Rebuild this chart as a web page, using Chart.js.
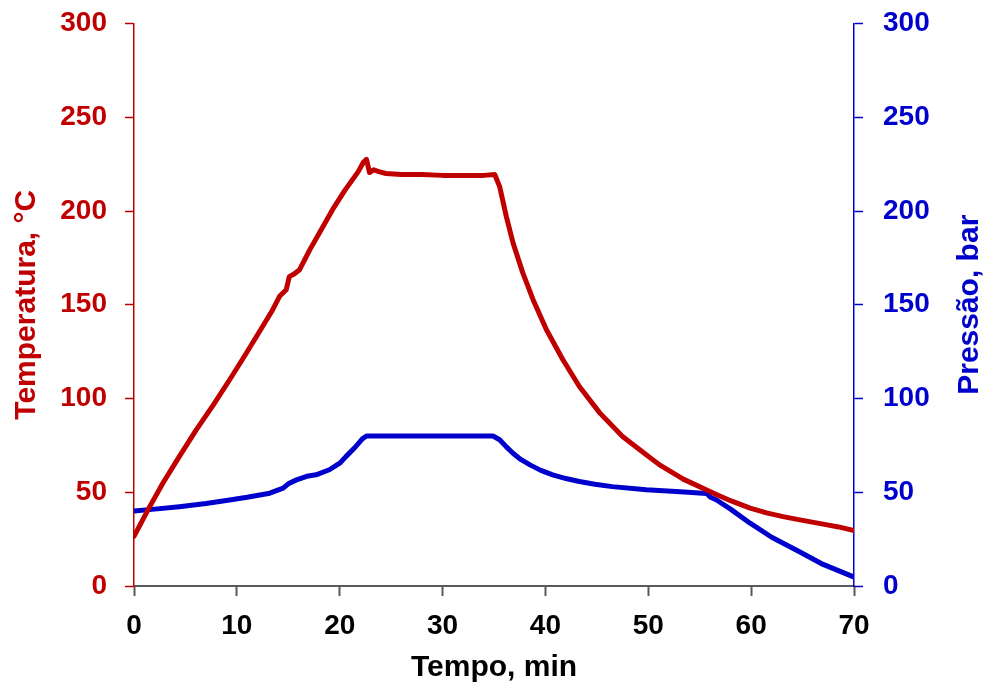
<!DOCTYPE html>
<html>
<head>
<meta charset="utf-8">
<script src="https://cdn.jsdelivr.net/npm/chart.js@4"></script>
<style>
html,body{margin:0;padding:0;background:#fff;}
#wrap{width:984px;height:686px;position:relative;}
</style>
</head>
<body>
<div id="wrap"><canvas id="c" width="984" height="686"></canvas></div>
<script>
// Data
const tempTime = [0,1.4,2.8,4.4,6.05,7.7,9.3,10.9,12.5,13.4,14.15,14.8,15.1,15.6,16.1,17.1,18.2,19.3,20.5,21.8,22.3,22.6,22.9,23.3,23.8,24.5,26,28,30,32,34,35.07,35.55,36.2,36.85,37.8,38.8,40.1,41.7,43.3,45.3,47.5,49.8,51.1,53.4,56.3,58,59.9,61.5,63.1,65,67,68.5,70];
const tempValues = [26.5,41,54.8,69,83.3,96.5,110,124,138.4,146.5,154.5,158,165,166.5,168.7,179.4,190,200.7,211,221,226,227.5,220.5,222,221,220,219.5,219.5,219,219,219,219.5,213,197,183,167,152.7,136.7,120.7,106.4,92.2,79.7,70,64.6,57,49.6,45.5,41.5,39,37,35,33,31.5,29.5];
const presTime = [0,2,4.4,7,9.3,11,13.2,14.5,15,15.8,16.8,17.7,19,20,20.6,21.5,22.2,22.6,25,30,34.9,35.55,36.2,36.85,37.6,38.5,39.5,40.7,42,43.3,44.8,46.5,49.8,53.1,55.3,55.7,56,56.6,58,59.9,62,64.7,67,69.9];
const presValues = [40,41,42.3,44,45.9,47.3,49.5,52.2,54.5,56.6,58.5,59.3,62,65.5,69,74,78.5,80,80,80,80,78,74.2,70.8,67.5,64.6,61.8,59.3,57.3,55.7,54.3,53,51.3,50.3,49.5,49.3,47.5,46,41,33.5,26,18.3,11.5,5];
const xTicks = [0,10,20,30,40,50,60,70];
const yTicks = [0,50,100,150,200,250,300];

const RED = '#C00000';
const BLUE = '#0000CC';
const FONT = 'Liberation Sans, Arial, sans-serif';

const toPts = (xs, ys) => xs.map((x, i) => ({x: x, y: ys[i]}));

// Right-hand axis title drawn reading bottom-to-top, like the reference
const rightTitle = {
  id: 'rightTitle',
  afterDraw(chart) {
    const ctx = chart.ctx;
    const area = chart.chartArea;
    ctx.save();
    ctx.translate(978, (area.top + area.bottom) / 2);
    ctx.rotate(-Math.PI / 2);
    ctx.fillStyle = BLUE;
    ctx.font = 'bold 30px ' + FONT;
    ctx.textAlign = 'center';
    ctx.textBaseline = 'alphabetic';
    ctx.fillText('Pressão, bar', 0, 0);
    ctx.restore();
  }
};

const fitY = w => s => { s.width = w; s.paddingTop = 0; s.paddingBottom = 0; };

new Chart(document.getElementById('c'), {
  type: 'line',
  data: {
    datasets: [
      {label: 'Temperatura', data: toPts(tempTime, tempValues), borderColor: RED, borderWidth: 5, pointRadius: 0, tension: 0, yAxisID: 'y', borderJoinStyle: 'round', borderCapStyle: 'round'},
      {label: 'Pressão', data: toPts(presTime, presValues), borderColor: BLUE, borderWidth: 5, pointRadius: 0, tension: 0, yAxisID: 'y2', borderJoinStyle: 'round', borderCapStyle: 'round'}
    ]
  },
  options: {
    responsive: false,
    animation: false,
    devicePixelRatio: 1,
    layout: {padding: {left: 5, right: 0, top: 23.5, bottom: 0}},
    plugins: {legend: {display: false}, tooltip: {enabled: false}},
    scales: {
      x: {
        type: 'linear', min: 0, max: 70,
        afterBuildTicks: s => { s.ticks = xTicks.map(v => ({value: v})); },
        afterFit: s => { s.height = 100; s.paddingLeft = 0; s.paddingRight = 0; },
        grid: {display: true, drawOnChartArea: false, drawTicks: true, tickLength: 10, tickColor: '#595959', tickWidth: 2},
        border: {display: true, color: '#595959', width: 2},
        ticks: {color: '#000', font: {family: FONT, size: 28, weight: 'bold'}, padding: 13, maxRotation: 0},
        title: {display: true, text: 'Tempo, min', color: '#000', font: {family: FONT, size: 30, weight: 'bold'}, padding: {top: 4, bottom: 0}}
      },
      y: {
        type: 'linear', position: 'left', min: 0, max: 300,
        afterBuildTicks: s => { s.ticks = yTicks.map(v => ({value: v})); },
        afterFit: fitY(129),
        grid: {display: true, drawOnChartArea: false, drawTicks: true, tickLength: 9, tickColor: RED, tickWidth: 1.5},
        border: {display: true, color: RED, width: 1.5},
        ticks: {color: RED, font: {family: FONT, size: 28, weight: 'bold'}, padding: 18},
        title: {display: true, text: 'Temperatura, °C', color: RED, font: {family: FONT, size: 30, weight: 'bold'}, padding: {top: 4, bottom: 4}}
      },
      y2: {
        type: 'linear', position: 'right', min: 0, max: 300,
        afterBuildTicks: s => { s.ticks = yTicks.map(v => ({value: v})); },
        afterFit: fitY(130),
        grid: {display: true, drawOnChartArea: false, drawTicks: true, tickLength: 9, tickColor: BLUE, tickWidth: 1.5},
        border: {display: true, color: BLUE, width: 1.5},
        ticks: {color: BLUE, font: {family: FONT, size: 28, weight: 'bold'}, padding: 20},
        title: {display: false}
      }
    }
  },
  plugins: [rightTitle]
});
</script>
</body>
</html>
